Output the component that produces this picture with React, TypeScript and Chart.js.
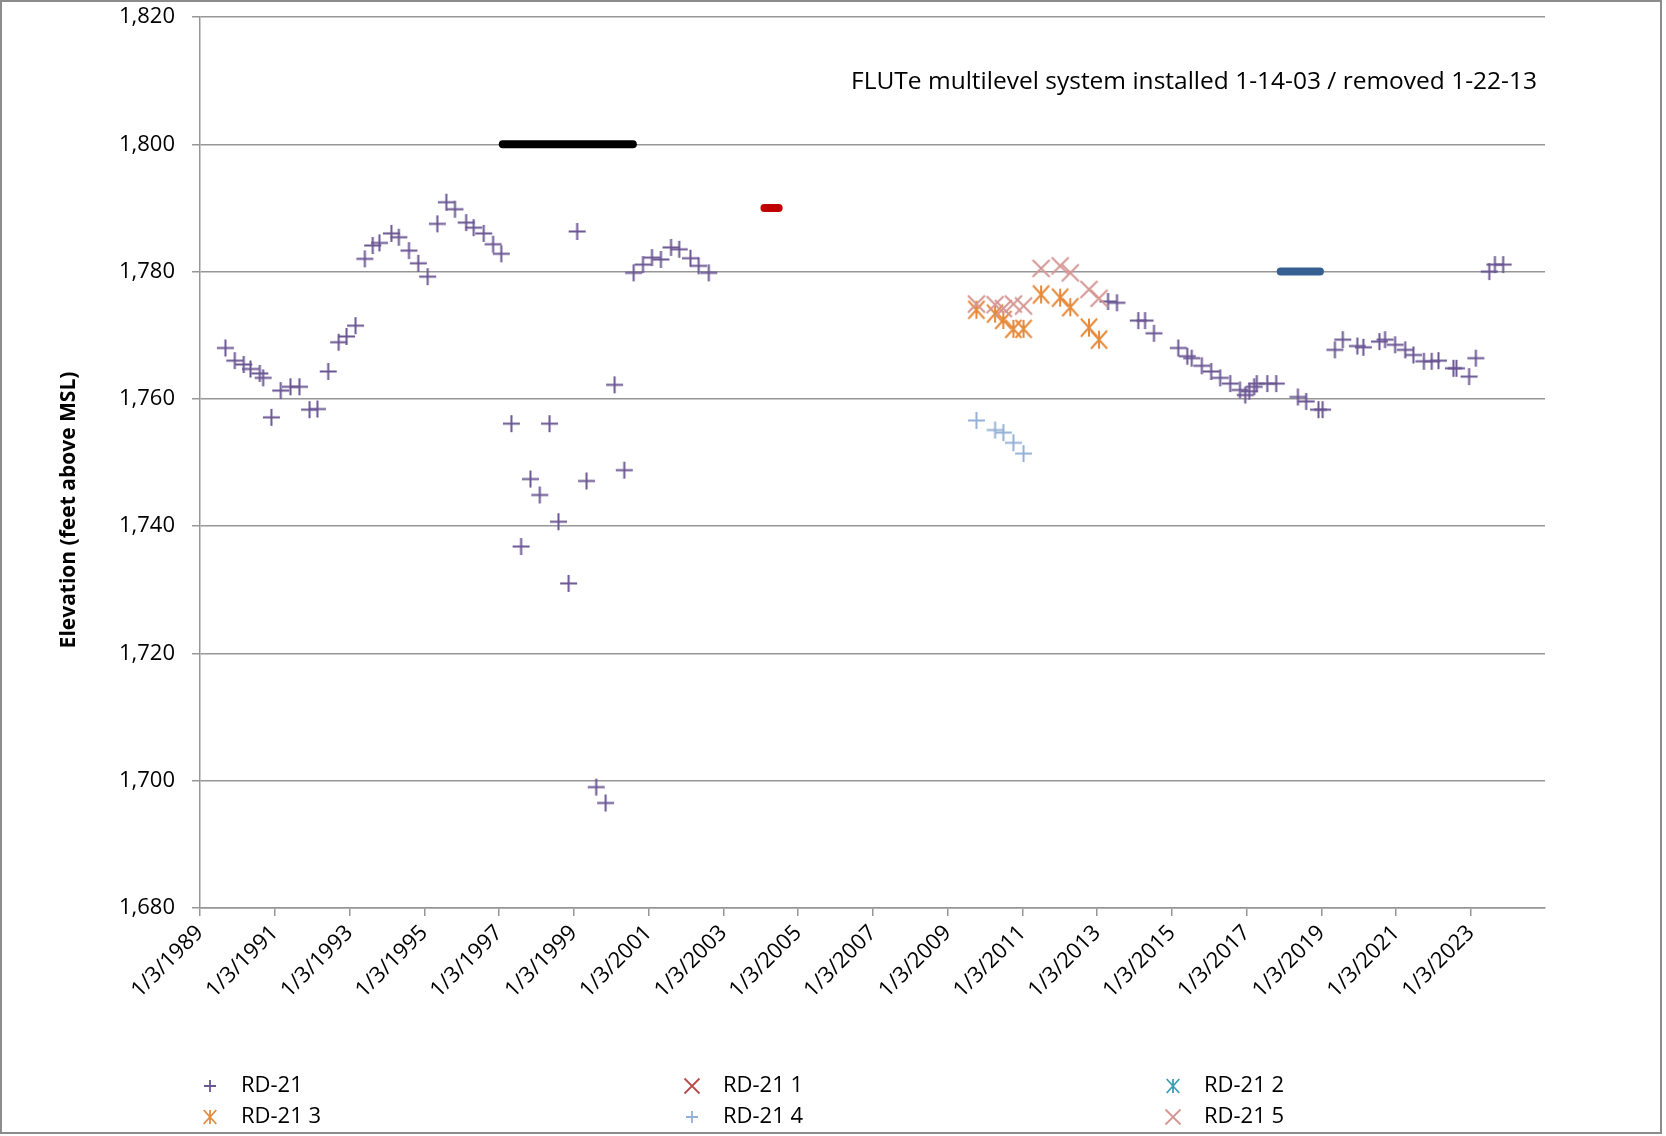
import { useEffect, useRef } from "react";
import { Chart, registerables } from "chart.js";

Chart.register(...registerables);

// ---------- data (dates as decimal years) ----------
const rd21Dates = [
  1989.68, 1989.93, 1990.17, 1990.35, 1990.6, 1990.69, 1990.91, 1991.16, 1991.42, 1991.66,
  1991.93, 1992.14, 1992.43, 1992.71, 1992.92, 1993.16, 1993.41, 1993.62, 1993.8, 1994.12,
  1994.32, 1994.59, 1994.84, 1995.09, 1995.35, 1995.59, 1995.82, 1996.12, 1996.32, 1996.59,
  1996.84, 1997.06, 1997.33, 1997.59, 1997.84, 1998.09, 1998.35, 1998.59, 1998.86, 1999.09,
  1999.34, 1999.6, 1999.85, 2000.09, 2000.35, 2000.6, 2000.85, 2001.09, 2001.33, 2001.6,
  2001.82, 2002.12, 2002.34, 2002.61,
  2013.29, 2013.53, 2014.1, 2014.28, 2014.52, 2015.17, 2015.41, 2015.53, 2015.8, 2016.05,
  2016.29, 2016.56, 2016.82, 2016.96, 2017.07, 2017.2, 2017.27, 2017.55, 2017.79, 2018.37,
  2018.59, 2018.92, 2019.03, 2019.36, 2019.57, 2019.96, 2020.12, 2020.55, 2020.7, 2020.97,
  2021.24, 2021.46, 2021.74, 2021.95, 2022.13, 2022.53, 2022.61, 2022.95, 2023.13, 2023.49,
  2023.64, 2023.86,
];
const rd21Values = [
  1768.0, 1766.0, 1765.4, 1764.7, 1764.0, 1763.3, 1757.1, 1761.3, 1761.9, 1761.9,
  1758.3, 1758.4, 1764.3, 1768.9, 1769.8, 1771.5, 1782.0, 1784.1, 1784.5, 1786.0,
  1785.4, 1783.3, 1781.3, 1779.2, 1787.5, 1790.9, 1789.8, 1787.7, 1786.9, 1786.0,
  1784.3, 1782.8, 1756.1, 1736.8, 1747.4, 1744.9, 1756.1, 1740.7, 1731.0, 1786.3,
  1747.1, 1699.0, 1696.5, 1762.2, 1748.8, 1779.8, 1781.1, 1782.2, 1781.9, 1783.8,
  1783.5, 1782.1, 1780.9, 1779.8,
  1775.3, 1775.1, 1772.3, 1772.3, 1770.3, 1768.0, 1766.7, 1766.4, 1765.2, 1764.3,
  1763.3, 1762.4, 1761.4, 1760.6, 1761.2, 1761.9, 1762.4, 1762.4, 1762.4, 1760.3,
  1759.6, 1758.3, 1758.3, 1767.7, 1769.3, 1768.3, 1768.1, 1769.0, 1769.3, 1768.5,
  1767.7, 1766.9, 1765.9, 1765.9, 1766.0, 1764.8, 1764.8, 1763.5, 1766.4, 1780.0,
  1781.1, 1781.1,
];

const rd21_1Dates: number[] = [];
const rd21_1Values: number[] = [];
const rd21_2Dates: number[] = [];
const rd21_2Values: number[] = [];

const rd21_3Dates = [2009.77, 2010.27, 2010.49, 2010.76, 2011.03, 2011.5, 2012.01, 2012.28, 2012.78, 2013.05];
const rd21_3Values = [1774.0, 1773.4, 1772.4, 1771.0, 1771.0, 1776.4, 1775.9, 1774.4, 1771.2, 1769.3];

const rd21_4Dates = [2009.77, 2010.27, 2010.49, 2010.76, 2011.03];
const rd21_4Values = [1756.6, 1755.1, 1754.7, 1753.1, 1751.4];

const rd21_5Dates = [2009.77, 2010.27, 2010.49, 2010.76, 2011.03, 2011.5, 2012.01, 2012.28, 2012.78, 2013.05];
const rd21_5Values = [1774.9, 1774.8, 1774.2, 1774.9, 1774.6, 1780.5, 1780.9, 1779.8, 1777.2, 1775.8];

// horizontal period bars (not in legend)
const periodStarts = [1997.1, 2004.1, 2017.91];
const periodEnds = [2000.58, 2004.48, 2018.96];
const periodLevels = [1800, 1790, 1780];
const periodColors = ["#000000", "#C00000", "#376092"];

const tickYears = [1989, 1991, 1993, 1995, 1997, 1999, 2001, 2003, 2005, 2007, 2009, 2011, 2013, 2015, 2017, 2019, 2021, 2023];
const yTickValues = [1680, 1700, 1720, 1740, 1760, 1780, 1800, 1820];

const seriesNames = ["RD-21", "RD-21 1", "RD-21 2", "RD-21 3", "RD-21 4", "RD-21 5"];
const seriesColors = ["#6B5693", "#B94C49", "#3E9DB6", "#E5893B", "#93B1D6", "#D59693"];
const seriesMarkers = ["plus", "x", "asterisk", "asterisk", "plus", "x"];

const annotationText = "FLUTe multilevel system installed 1-14-03 / removed 1-22-13";
const yTitle = "Elevation (feet above MSL)";

const FONT = '"Open Sans", "Noto Sans", sans-serif';

function markerPath(ctx: CanvasRenderingContext2D, kind: string, cx: number, cy: number, h: number) {
  ctx.beginPath();
  if (kind === "plus") {
    ctx.moveTo(cx - h, cy);
    ctx.lineTo(cx + h, cy);
    ctx.moveTo(cx, cy - h);
    ctx.lineTo(cx, cy + h);
  } else if (kind === "x") {
    ctx.moveTo(cx - h, cy - h);
    ctx.lineTo(cx + h, cy + h);
    ctx.moveTo(cx + h, cy - h);
    ctx.lineTo(cx - h, cy + h);
  } else {
    const d = h * 0.9;
    ctx.moveTo(cx - d, cy - h);
    ctx.lineTo(cx + d, cy + h);
    ctx.moveTo(cx + d, cy - h);
    ctx.lineTo(cx - d, cy + h);
    ctx.moveTo(cx, cy - h);
    ctx.lineTo(cx, cy + h);
  }
  ctx.stroke();
}

function makeMarker(kind: string, color: string, h: number, lw: number) {
  const size = Math.ceil(2 * h + 2 * lw + 2);
  const c = document.createElement("canvas");
  c.width = size;
  c.height = size;
  const ctx = c.getContext("2d")!;
  ctx.strokeStyle = color;
  ctx.lineWidth = lw;
  markerPath(ctx, kind, size / 2, size / 2, h);
  return c;
}

const toPoints = (xs: number[], ys: number[]) => xs.map((x, i) => ({ x, y: ys[i] }));

export default function App() {
  const ref = useRef<HTMLCanvasElement | null>(null);

  useEffect(() => {
    if (!ref.current) return;
    const datesList = [rd21Dates, rd21_1Dates, rd21_2Dates, rd21_3Dates, rd21_4Dates, rd21_5Dates];
    const valuesList = [rd21Values, rd21_1Values, rd21_2Values, rd21_3Values, rd21_4Values, rd21_5Values];

    const markerDatasets = seriesNames.map((name, i) => ({
      label: name,
      data: toPoints(datesList[i], valuesList[i]),
      pointStyle: makeMarker(seriesMarkers[i], seriesColors[i], seriesMarkers[i] === "asterisk" ? 9 : 8.5, 2),
      pointRadius: 9,
      borderColor: seriesColors[i],
      backgroundColor: seriesColors[i],
      showLine: false,
      order: 10 - i,
    }));

    const periodDatasets = periodStarts.map((s, i) => ({
      label: "period" + i,
      data: [
        { x: s, y: periodLevels[i] },
        { x: periodEnds[i], y: periodLevels[i] },
      ],
      showLine: true,
      borderColor: periodColors[i],
      borderWidth: 8,
      borderCapStyle: "round" as const,
      pointRadius: 0,
      order: 20,
    }));

    const overlay = {
      id: "overlay",
      afterDraw(chart: any) {
        const ctx = chart.ctx as CanvasRenderingContext2D;
        const area = chart.chartArea;
        ctx.save();
        // annotation
        ctx.fillStyle = "#000";
        ctx.font = `24.5px ${FONT}`;
        ctx.textAlign = "right";
        ctx.textBaseline = "middle";
        ctx.fillText(annotationText, area.right - 8, 82);
        // y title
        ctx.save();
        ctx.translate(69, 510);
        ctx.rotate(-Math.PI / 2);
        ctx.font = `bold 21px ${FONT}`;
        ctx.textAlign = "center";
        ctx.fillText(yTitle, 0, 0);
        ctx.restore();
        // legend
        const colX = [210, 692, 1173];
        const rowY = [1086, 1117];
        ctx.font = `22px ${FONT}`;
        ctx.textAlign = "left";
        seriesNames.forEach((name, i) => {
          const cx = colX[i % 3];
          const cy = rowY[Math.floor(i / 3)];
          ctx.strokeStyle = seriesColors[i];
          ctx.lineWidth = 1.8;
          const h = seriesMarkers[i] === "plus" ? 6 : seriesMarkers[i] === "x" ? 7.5 : 7;
          markerPath(ctx, seriesMarkers[i], cx, cy, h);
          ctx.fillStyle = "#000";
          ctx.fillText(name, cx + 31, cy);
        });
        ctx.restore();
      },
    };

    const chart = new Chart(ref.current, {
      type: "scatter",
      data: { datasets: [...markerDatasets, ...periodDatasets] as any },
      options: {
        animation: false,
        responsive: false,
        events: [],
        layout: { autoPadding: false, padding: { left: 0, top: 17, right: 121, bottom: 78 } },
        plugins: { legend: { display: false }, tooltip: { enabled: false }, title: { display: false } },
        scales: {
          x: {
            type: "linear",
            min: 1989,
            max: 2024.98,
            afterFit(scale: any) {
              scale.height = 150;
              scale.paddingLeft = 0;
              scale.paddingRight = 0;
              scale.paddingTop = 0;
              scale.paddingBottom = 0;
            },
            afterBuildTicks(scale: any) {
              scale.ticks = tickYears.map((v) => ({ value: v }));
            },
            grid: {
              drawOnChartArea: false,
              drawTicks: true,
              tickLength: 8,
              color: "#969696",
              lineWidth: 1.5,
            },
            border: { color: "#969696", width: 1.5 },
            ticks: {
              minRotation: 45,
              maxRotation: 45,
              autoSkip: false,
              padding: 4,
              color: "#000",
              font: { family: FONT, size: 22 },
              callback: (v: any) => `1/3/${v}`,
            },
          },
          y: {
            type: "linear",
            min: 1680,
            max: 1820,
            afterFit(scale: any) {
              scale.width = 200;
              scale.paddingTop = 0;
              scale.paddingBottom = 0;
              scale.paddingLeft = 0;
              scale.paddingRight = 0;
            },
            afterBuildTicks(scale: any) {
              scale.ticks = yTickValues.map((v) => ({ value: v }));
            },
            grid: { color: "#969696", lineWidth: 1.5, tickLength: 8, drawTicks: true },
            border: { color: "#969696", width: 1.5 },
            ticks: {
              padding: 17,
              color: "#000",
              font: { family: FONT, size: 22 },
              callback: (v: any) => Number(v).toLocaleString("en-US"),
            },
          },
        },
      } as any,
      plugins: [overlay],
    });
    return () => chart.destroy();
  }, []);

  return (
    <div style={{ position: "absolute", left: 0, top: 0, width: 1666, height: 1136, background: "#fff" }}>
      <canvas ref={ref} width={1666} height={1136} style={{ position: "absolute", left: 0, top: 0 }} />
      <div
        style={{
          position: "absolute",
          left: 0,
          top: 0,
          width: 1662,
          height: 1134,
          border: "2px solid #8c8c8c",
          boxSizing: "border-box",
          pointerEvents: "none",
        }}
      />
    </div>
  );
}
